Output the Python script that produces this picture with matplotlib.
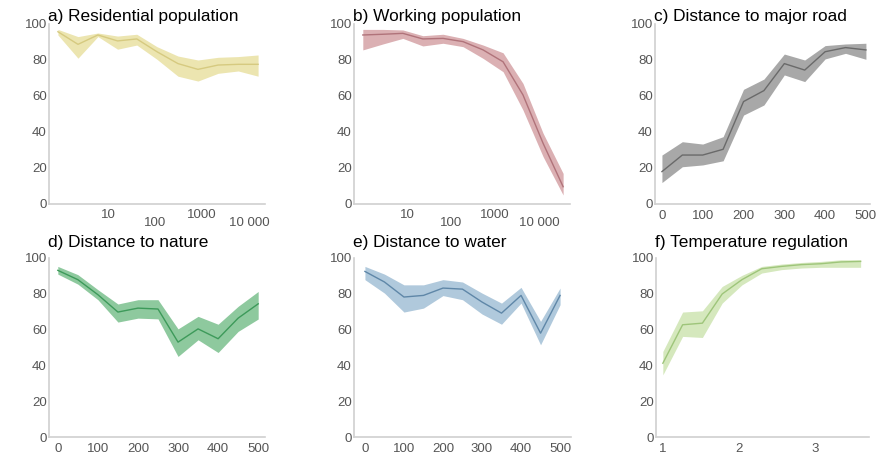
import matplotlib.pyplot as plt
from matplotlib.ticker import FixedLocator, NullLocator

# a) Residential population (log-binned)
res_x = [0.86, 2.3, 6.1, 16, 41, 110, 308, 820, 2200, 5900, 15600]
res_mid = [95.7, 88.7, 93.9, 90.6, 91.7, 84.6, 78.0, 74.8, 77.2, 77.6, 77.6]
res_hi = [97.0, 93.0, 95.0, 93.3, 94.3, 87.4, 82.2, 80.0, 81.5, 81.9, 82.8]
res_lo = [93.9, 81.0, 93.0, 86.0, 88.3, 80.4, 71.0, 68.3, 72.6, 73.9, 71.0]

# b) Working population (log-binned)
work_x = [1.0, 2.85, 8.1, 23, 66, 188, 535, 1520, 4300, 12300, 35000]
work_mid = [93.9, 94.3, 94.8, 91.7, 92.0, 90.2, 85.6, 79.0, 60.6, 33.7, 9.6]
work_hi = [97.0, 97.0, 96.7, 93.5, 94.3, 92.0, 88.3, 84.0, 67.0, 39.3, 17.0]
work_lo = [85.6, 88.9, 92.0, 87.8, 89.3, 87.4, 80.9, 73.5, 52.2, 26.3, 5.0]

# c) - e) distance bins
dist_x = [0, 50, 100, 150, 200, 250, 300, 350, 400, 450, 500]

road_mid = [18.0, 27.2, 27.2, 30.4, 56.9, 63.0, 78.0, 74.4, 84.6, 86.9, 85.6]
road_hi = [27.2, 34.6, 33.3, 37.4, 63.7, 69.4, 83.3, 80.0, 88.0, 88.9, 89.3]
road_lo = [11.9, 20.7, 21.7, 24.0, 49.4, 55.0, 71.7, 68.0, 80.6, 83.7, 80.4]

nature_mid = [93.1, 87.9, 79.5, 69.8, 72.0, 71.5, 53.0, 60.4, 54.9, 66.4, 74.4]
nature_hi = [95.3, 90.7, 82.3, 74.3, 76.7, 76.7, 60.4, 67.4, 63.0, 73.0, 81.3]
nature_lo = [91.0, 85.4, 76.7, 64.2, 66.4, 66.0, 45.0, 54.3, 47.2, 59.0, 65.9]

water_mid = [92.5, 86.6, 78.2, 79.1, 83.2, 82.6, 75.4, 69.2, 79.1, 58.0, 79.1]
water_hi = [95.3, 91.0, 85.0, 85.0, 87.9, 86.6, 80.4, 74.8, 83.6, 64.6, 83.2]
water_lo = [87.9, 80.4, 69.8, 72.0, 79.0, 76.7, 68.7, 63.0, 74.8, 51.5, 73.9]

# f) Temperature regulation
temp_x = [1.0, 1.26, 1.52, 1.78, 2.04, 2.3, 2.56, 2.82, 3.08, 3.34, 3.6]
temp_mid = [41.2, 62.7, 63.6, 79.9, 87.9, 94.0, 95.3, 96.3, 96.8, 97.8, 98.1]
temp_hi = [47.8, 69.8, 70.5, 84.1, 90.3, 95.3, 96.6, 97.5, 98.1, 99.0, 99.0]
temp_lo = [34.7, 56.2, 55.6, 74.8, 85.0, 91.6, 93.5, 94.4, 94.8, 94.8, 94.8]

plt.rcParams['font.family'] = ['Liberation Sans', 'DejaVu Sans']

fig = plt.figure(figsize=(8.94, 4.55), dpi=100)

W, H = 894, 455


def make_ax(left, top, width, height):
    return fig.add_axes([left / W, (H - top - height) / H, width / W, height / H])


def style(ax, title, title_pad=2):
    for s in ['top', 'right']:
        ax.spines[s].set_visible(False)
    for s in ['left', 'bottom']:
        ax.spines[s].set_color('#d0d0d0')
        ax.spines[s].set_linewidth(1.2)
    ax.set_ylim(0, 100)
    ax.set_yticks([0, 20, 40, 60, 80, 100])
    ax.tick_params(length=0, labelsize=9.5, labelcolor='#555555')
    ax.tick_params(axis='y', pad=1.5)
    ax.tick_params(axis='x', pad=4)
    ax.set_title(title, loc='left', fontsize=12.4, pad=title_pad, x=-0.005)


def band(ax, x, mid, lo, hi, fill, line):
    ax.fill_between(x, lo, hi, color=fill, lw=0)
    ax.plot(x, mid, color=line, lw=1.0)


def log_ticks(ax):
    ax.set_xscale('log')
    ax.xaxis.set_major_locator(FixedLocator([10, 100, 1000, 10000]))
    ax.xaxis.set_minor_locator(NullLocator())
    ax.set_xticklabels(['10', '100', '1000', '10 000'])
    for i, lab in enumerate(ax.get_xticklabels()):
        lab.set_y(0.005 if i % 2 == 0 else -0.04)


# top row
ax = make_ax(49, 24, 216, 180)
band(ax, res_x, res_mid, res_lo, res_hi, '#ece5b0', '#d6ca80')
log_ticks(ax)
ax.set_xlim(10 ** -0.255, 10 ** 4.34)
style(ax, 'a) Residential population')

ax = make_ax(354, 24, 216, 180)
band(ax, work_x, work_mid, work_lo, work_hi, '#dbb0b3', '#b0737a')
log_ticks(ax)
ax.set_xlim(10 ** -0.2, 10 ** 4.7)
style(ax, 'b) Working population')

ax = make_ax(655, 24, 215, 180)
band(ax, dist_x, road_mid, road_lo, road_hi, '#a8a8a8', '#6a6a6a')
ax.set_xlim(-17, 510)
ax.set_xticks([0, 100, 200, 300, 400, 500])
style(ax, 'c) Distance to major road')

# bottom row
ax = make_ax(49, 258, 216, 179)
band(ax, dist_x, nature_mid, nature_lo, nature_hi, '#8ec99e', '#3d9a5a')
ax.set_xlim(-22, 517)
ax.set_xticks([0, 100, 200, 300, 400, 500])
style(ax, 'd) Distance to nature', title_pad=8)

ax = make_ax(354, 258, 217, 179)
band(ax, dist_x, water_mid, water_lo, water_hi, '#b0c9dc', '#5f87a8')
ax.set_xlim(-28, 528)
ax.set_xticks([0, 100, 200, 300, 400, 500])
style(ax, 'e) Distance to water', title_pad=8)

ax = make_ax(656, 258, 213, 179)
band(ax, temp_x, temp_mid, temp_lo, temp_hi, '#d5e8bd', '#9ec57a')
ax.set_xlim(0.91, 3.71)
ax.set_xticks([1, 2, 3])
style(ax, 'f) Temperature regulation', title_pad=8)

fig.savefig('out.png', dpi=100, facecolor='white')
